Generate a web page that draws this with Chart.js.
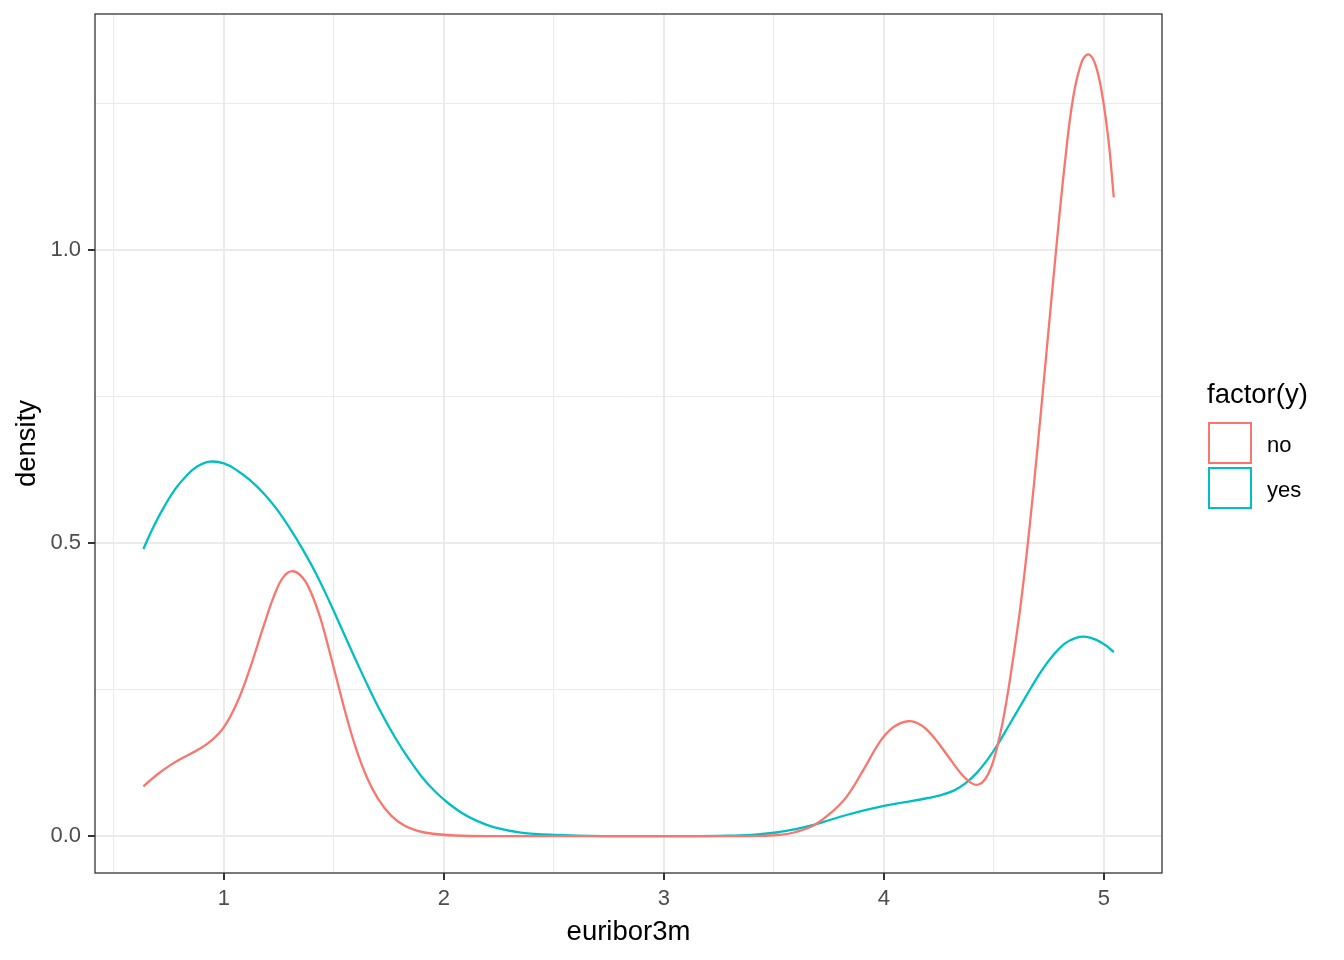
<!DOCTYPE html>
<html>
<head>
<meta charset="utf-8">
<script src="https://cdn.jsdelivr.net/npm/chart.js"></script>
<style>
  body { margin: 0; background: #fff; font-family: "Liberation Sans", Arial, sans-serif; }
  #wrap { position: relative; width: 1344px; height: 960px; }
  .leg { position: absolute; color: #000; white-space: nowrap; }
  .key { position: absolute; width: 40px; height: 38px; border: 2px solid; background: #fff; }
</style>
</head>
<body>
<div id="wrap">
  <canvas id="densityPlot" width="1344" height="960"></canvas>
  <div class="leg" style="left:1207px; top:378px; font-size:27.5px;">factor(y)</div>
  <div class="key" style="left:1208px; top:422px; border-color:#F8766D;"></div>
  <div class="key" style="left:1208px; top:467px; border-color:#00BFC4;"></div>
  <div class="leg" style="left:1267px; top:432px; font-size:22px;">no</div>
  <div class="leg" style="left:1267px; top:477px; font-size:22px;">yes</div>
</div>
<script>
// density estimates, grouped by factor(y)
const xNo = [0.634, 0.70, 0.76, 0.82, 0.88, 0.94, 1.00, 1.06, 1.12, 1.18, 1.23, 1.27, 1.314, 1.36, 1.40, 1.44, 1.48, 1.52, 1.56, 1.60, 1.65, 1.70, 1.76, 1.82, 1.88, 1.95, 2.05, 2.25, 2.5, 2.75, 3.0, 3.25, 3.45, 3.527, 3.60, 3.68, 3.76, 3.83, 3.91, 3.98, 4.04, 4.11, 4.17, 4.23, 4.29, 4.35, 4.40, 4.43, 4.46, 4.49, 4.52, 4.55, 4.58, 4.62, 4.66, 4.70, 4.74, 4.78, 4.82, 4.86, 4.90, 4.93, 4.96, 4.99, 5.02, 5.045];
const yNo = [0.085, 0.106, 0.122, 0.135, 0.147, 0.162, 0.186, 0.228, 0.288, 0.358, 0.412, 0.442, 0.452, 0.440, 0.412, 0.370, 0.315, 0.257, 0.200, 0.150, 0.100, 0.064, 0.035, 0.018, 0.009, 0.004, 0.001, 0, 0, 0, 0, 0, 0.0005, 0.002, 0.007, 0.018, 0.04, 0.067, 0.115, 0.160, 0.185, 0.196, 0.189, 0.167, 0.137, 0.107, 0.090, 0.088, 0.097, 0.120, 0.160, 0.215, 0.285, 0.39, 0.52, 0.67, 0.83, 0.99, 1.14, 1.26, 1.322, 1.334, 1.318, 1.270, 1.190, 1.09];

const xYes = [0.634, 0.68, 0.73, 0.78, 0.83, 0.88, 0.936, 1.00, 1.06, 1.12, 1.18, 1.24, 1.30, 1.36, 1.42, 1.48, 1.54, 1.60, 1.66, 1.72, 1.78, 1.84, 1.90, 1.96, 2.02, 2.08, 2.15, 2.23, 2.35, 2.5, 2.75, 3.0, 3.25, 3.40, 3.527, 3.60, 3.68, 3.75, 3.83, 3.91, 3.98, 4.05, 4.13, 4.20, 4.26, 4.32, 4.37, 4.42, 4.47, 4.52, 4.57, 4.62, 4.67, 4.72, 4.77, 4.82, 4.87, 4.92, 4.97, 5.01, 5.045];
const yYes = [0.490, 0.528, 0.563, 0.593, 0.615, 0.631, 0.639, 0.636, 0.624, 0.607, 0.585, 0.558, 0.525, 0.488, 0.447, 0.400, 0.350, 0.300, 0.252, 0.207, 0.167, 0.132, 0.101, 0.076, 0.056, 0.040, 0.026, 0.015, 0.006, 0.002, 0, 0, 0.0005, 0.002, 0.007, 0.012, 0.019, 0.027, 0.036, 0.044, 0.05, 0.055, 0.06, 0.065, 0.070, 0.078, 0.090, 0.107, 0.130, 0.158, 0.190, 0.222, 0.254, 0.284, 0.309, 0.328, 0.338, 0.340, 0.334, 0.325, 0.314];

const xTicks = [0.5, 1, 1.5, 2, 2.5, 3, 3.5, 4, 4.5, 5];
const yTicks = [0, 0.25, 0.5, 0.75, 1.0, 1.25];

const toPoints = (xs, ys) => xs.map((x, i) => ({ x: x, y: ys[i] }));
const isMajor = v => Math.abs(v - Math.round(v)) < 1e-9;
const isMajorY = v => Math.abs(v * 2 - Math.round(v * 2)) < 1e-9;

// panel border like theme_bw
const panelBorder = {
  id: "panelBorder",
  afterDraw(chart) {
    const a = chart.chartArea, ctx = chart.ctx;
    ctx.save();
    ctx.strokeStyle = "#333333";
    ctx.lineWidth = 1.3;
    ctx.strokeRect(a.left, a.top, a.right - a.left, a.bottom - a.top);
    ctx.restore();
  }
};

const ctx = document.getElementById("densityPlot").getContext("2d");
new Chart(ctx, {
  type: "line",
  data: {
    datasets: [
      { label: "no", data: toPoints(xNo, yNo), borderColor: "#F8766D", borderWidth: 2.3,
        pointRadius: 0, fill: false, tension: 0.4 },
      { label: "yes", data: toPoints(xYes, yYes), borderColor: "#00BFC4", borderWidth: 2.3,
        pointRadius: 0, fill: false, tension: 0.4 }
    ]
  },
  plugins: [panelBorder],
  options: {
    responsive: false,
    devicePixelRatio: 1,
    animation: false,
    layout: { padding: { top: 14, right: 182, left: 0, bottom: 0 } },
    plugins: { legend: { display: false }, tooltip: { enabled: false } },
    scales: {
      x: {
        type: "linear",
        min: 0.414, max: 5.264,
        afterBuildTicks: s => { s.ticks = xTicks.map(v => ({ value: v })); },
        afterFit: s => { s.height = 87; s.paddingLeft = 0; s.paddingRight = 0; },
        border: { display: false },
        grid: {
          color: "#EBEBEB",
          lineWidth: c => isMajor(c.tick.value) ? 2 : 1,
          tickColor: c => isMajor(c.tick.value) ? "#333333" : "rgba(0,0,0,0)",
          tickLength: 7, tickWidth: 2
        },
        ticks: {
          color: "#4D4D4D", font: { family: "Liberation Sans", size: 22 }, padding: 6,
          maxRotation: 0, autoSkip: false,
          callback: v => isMajor(v) ? String(v) : ""
        },
        title: { display: true, text: "euribor3m", color: "#000",
          font: { family: "Liberation Sans", size: 27.5 }, padding: { top: 0, bottom: 11 } }
      },
      y: {
        min: -0.063, max: 1.403,
        afterBuildTicks: s => { s.ticks = yTicks.map(v => ({ value: v })); },
        afterFit: s => { s.width = 95; s.paddingTop = 0; s.paddingBottom = 0; },
        border: { display: false },
        grid: {
          color: "#EBEBEB",
          lineWidth: c => isMajorY(c.tick.value) ? 2 : 1,
          tickColor: c => isMajorY(c.tick.value) ? "#333333" : "rgba(0,0,0,0)",
          tickLength: 7, tickWidth: 2
        },
        ticks: {
          color: "#4D4D4D", font: { family: "Liberation Sans", size: 22 }, padding: 7,
          autoSkip: false,
          callback: v => isMajorY(v) ? v.toFixed(1) : ""
        },
        title: { display: true, text: "density", color: "#000",
          font: { family: "Liberation Sans", size: 27.5 }, padding: { top: 11, bottom: 0 } }
      }
    }
  }
});
</script>
</body>
</html>
